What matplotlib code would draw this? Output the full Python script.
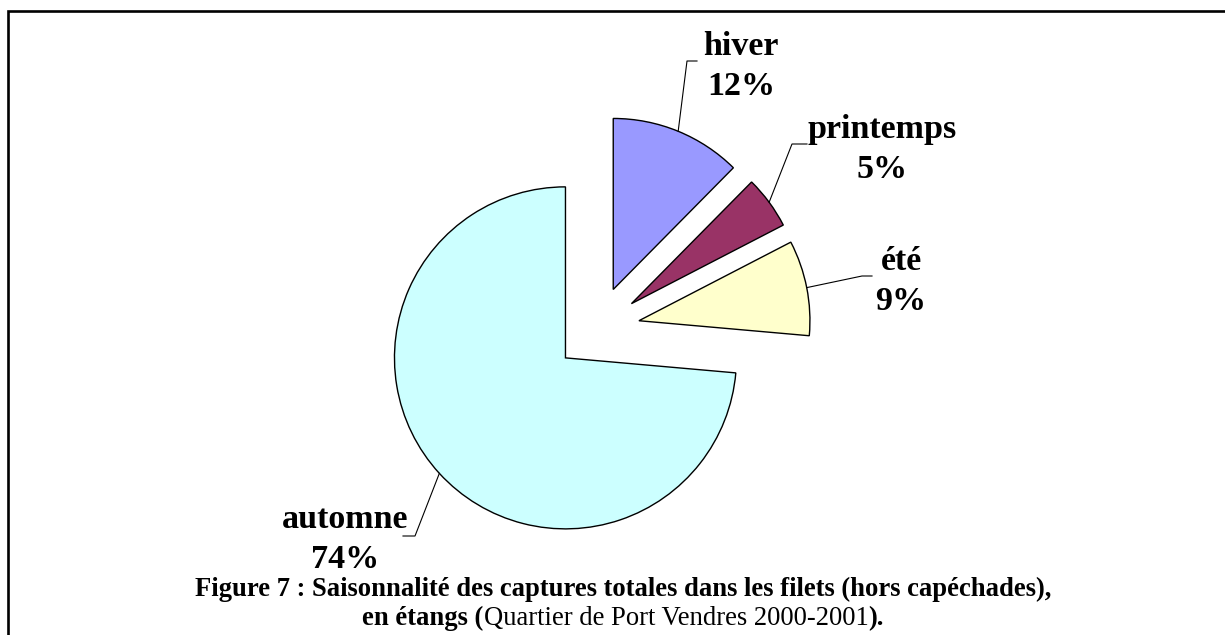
import matplotlib
matplotlib.use("Agg")
import matplotlib.pyplot as plt
from matplotlib.patches import Rectangle
import numpy as np

# data
seasons = ["hiver", "printemps", "été", "automne"]
shares = [12.4, 5.0, 9.0, 73.6]
colors = ["#9999FF", "#993366", "#FFFFCC", "#CCFFFF"]

caption_1 = "Figure 7 : Saisonnalité des captures totales dans les filets (hors capéchades),"
caption_2 = [("en étangs (", "bold"), ("Quartier de Port Vendres 2000-2001", "normal"), (").", "bold")]

# layout (pixel coords, y measured upwards)
W, H = 1225, 635
R = 171
label_pos = [(741, H - 95), (882, H - 178), (901, H - 310), (345, H - 568)]
elbows = [((687, H - 61), 697), ((792, H - 144), 807), ((862, H - 276), 872), ((415, H - 536), 403)]

plt.rcParams['font.family'] = ['Liberation Serif', 'DejaVu Serif']

fig = plt.figure(figsize=(W / 100, H / 100), dpi=100)
ax = fig.add_axes([0, 0, 1, 1])

# every slice pulled out by a quarter of the radius (explode is in data units)
wedges, _ = ax.pie(shares, colors=colors, startangle=90, counterclock=False,
                   explode=[0.25 * R] * 4, radius=R, center=(597, H - 329),
                   wedgeprops=dict(edgecolor="black", linewidth=1.0))
ax.set_xlim(0, W)
ax.set_ylim(0, H)
ax.set_aspect('auto')
ax.axis('off')

total = sum(shares)
for w, name, val, (tx, ty), ((ex, ey), hx) in zip(wedges, seasons, shares, label_pos, elbows):
    mid = np.deg2rad((w.theta1 + w.theta2) / 2)
    px, py = w.center[0] + w.r * np.cos(mid), w.center[1] + w.r * np.sin(mid)
    ax.plot([px, ex, hx], [py, ey, ey], color="black", lw=0.8)
    ax.text(tx, ty, f"{name}\n{100 * val / total:.0f}%", ha="center", va="baseline",
            fontsize=24.5, fontweight="bold", linespacing=1.37)

# frame
ax.add_patch(Rectangle((8, -30), W + 50, H - 10.5 + 30, fill=False, edgecolor="black", lw=1.9))

# caption
ax.text(623, H - 596, caption_1, ha="center", va="baseline", fontsize=19.2, fontweight="bold")
renderer = fig.canvas.get_renderer()
pieces = [ax.text(0, H - 625, s, ha="left", va="baseline", fontsize=19.2, fontweight=fw)
          for s, fw in caption_2]
widths = [t.get_window_extent(renderer).width for t in pieces]
x = 623 - sum(widths) / 2
for t, wd in zip(pieces, widths):
    t.set_x(x)
    x += wd

fig.savefig("out.png", dpi=100)
